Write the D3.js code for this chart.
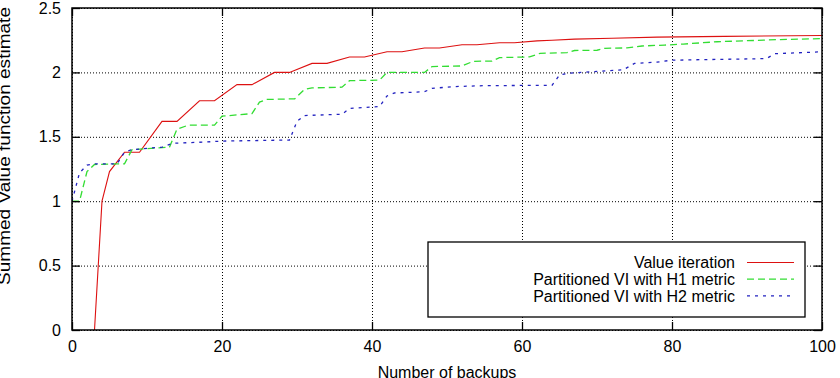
<!DOCTYPE html>
<html>
<head>
<meta charset="utf-8">
<script src="https://cdn.jsdelivr.net/npm/d3@7"></script>
<style>
  body { margin: 0; background: #fff; }
  svg { display: block; font-family: "Liberation Sans", Arial, sans-serif; }
  .grid line { stroke: #000; stroke-dasharray: 1,2; stroke-width: 1; }
  .grid path { display: none; }
  .axis path { display: none; }
  .axis line { stroke: #000; stroke-width: 1.3; }
  .axis text { font-size: 16px; fill: #000; }
</style>
</head>
<body>
<script>
// data: [number of backups, summed value]
const valueIteration = [
  [3, 0], [4, 1.0], [5, 1.23], [7, 1.38], [9, 1.38], [12, 1.62], [14, 1.62],
  [17, 1.78], [19, 1.78], [22, 1.905], [24, 1.905], [27, 2.0], [29, 2.0],
  [32, 2.07], [34, 2.07], [37, 2.12], [39, 2.12], [42, 2.16], [44, 2.16],
  [47, 2.19], [49, 2.19], [52, 2.215], [54, 2.215], [57, 2.23], [59, 2.23],
  [62, 2.245], [64, 2.25], [67, 2.258], [72, 2.265], [78, 2.274], [87, 2.28], [100, 2.286]
]
const partH1 = [
  [0, 1.0], [1, 1.0], [2, 1.23], [3, 1.285], [6, 1.29], [7, 1.29], [8, 1.40],
  [13, 1.42], [14, 1.56], [15.5, 1.59], [19, 1.59], [20, 1.66], [24, 1.68],
  [25, 1.77], [26, 1.79], [29.7, 1.795], [31, 1.868], [32, 1.88], [36, 1.885],
  [37, 1.936], [41, 1.94], [42, 2.0], [47, 2.0], [48, 2.045], [52, 2.05],
  [53.5, 2.086], [56, 2.088], [57, 2.115], [61, 2.12], [62.4, 2.148], [66, 2.153],
  [67, 2.17], [70, 2.172], [71, 2.187], [74, 2.19], [76, 2.205], [79, 2.212],
  [81.5, 2.22], [86, 2.238], [94, 2.254], [100, 2.262]
]
const partH2 = [
  [0, 1.0], [1, 1.22], [2, 1.28], [3, 1.29], [6, 1.29], [7, 1.38], [8, 1.40],
  [12, 1.42], [13.5, 1.45], [18, 1.46], [20, 1.467], [29, 1.475], [30, 1.62],
  [31, 1.665], [36, 1.675], [37, 1.72], [41, 1.735], [42, 1.817], [43, 1.84],
  [47, 1.85], [48, 1.876], [51, 1.89], [55, 1.897], [64, 1.9], [65, 1.98],
  [66.5, 1.995], [73.5, 2.02], [75, 2.07], [78, 2.08], [80, 2.095],
  [92.6, 2.107], [93.7, 2.145], [100, 2.16]
]
const seriesNames = ['Value iteration', 'Partitioned VI with H1 metric', 'Partitioned VI with H2 metric']
const xTicks = [0, 20, 40, 60, 80, 100]
const yTicks = [0, 0.5, 1, 1.5, 2, 2.5]

const w = 840
const h = 378
const margin = { top: 8, right: 18, bottom: 48, left: 72 }

const svg = d3.select('body')
  .append('svg')
  .attr('width', w)
  .attr('height', h)

const xScale = d3.scaleLinear()
  .domain([0, 100])
  .range([margin.left, w - margin.right])
const yScale = d3.scaleLinear()
  .domain([0, 2.5])
  .range([h - margin.bottom, margin.top])

const plotW = w - margin.left - margin.right
const plotH = h - margin.top - margin.bottom

// dotted grid
svg.append('g')
  .attr('class', 'grid')
  .attr('transform', 'translate(0,' + (h - margin.bottom) + ')')
  .call(d3.axisBottom(xScale).tickValues(xTicks).tickSize(-plotH).tickFormat(''))
svg.append('g')
  .attr('class', 'grid')
  .attr('transform', 'translate(' + margin.left + ',0)')
  .call(d3.axisLeft(yScale).tickValues(yTicks).tickSize(-plotW).tickFormat(''))

svg.append('defs').append('clipPath')
  .attr('id', 'plot-clip')
  .append('rect')
  .attr('x', margin.left)
  .attr('y', margin.top)
  .attr('width', plotW)
  .attr('height', plotH)

const line = d3.line()
  .x(d => xScale(d[0]))
  .y(d => yScale(d[1]))

const styles = [
  { color: '#dd1111', dash: null, width: 1.1 },
  { color: '#33dd33', dash: '7,4', width: 1.3 },
  { color: '#2323c0', dash: '3,5', width: 1.3 }
]
const allSeries = [valueIteration, partH1, partH2]

const lines = svg.append('g').attr('clip-path', 'url(#plot-clip)')
allSeries.forEach((s, i) => {
  lines.append('path')
    .datum(s)
    .attr('fill', 'none')
    .attr('stroke', styles[i].color)
    .attr('stroke-width', styles[i].width)
    .attr('stroke-dasharray', styles[i].dash)
    .attr('d', line)
})

// axes, ticks pointing into the plot on all four sides
svg.append('g')
  .attr('class', 'axis')
  .attr('transform', 'translate(0,' + (h - margin.bottom) + ')')
  .call(d3.axisBottom(xScale).tickValues(xTicks).tickSize(-8).tickPadding(11))
svg.append('g')
  .attr('class', 'axis')
  .attr('transform', 'translate(0,' + margin.top + ')')
  .call(d3.axisTop(xScale).tickValues(xTicks).tickSize(-8).tickFormat(''))
svg.append('g')
  .attr('class', 'axis')
  .attr('transform', 'translate(' + margin.left + ',0)')
  .call(d3.axisLeft(yScale).tickValues(yTicks).tickSize(-8).tickPadding(11).tickFormat(d3.format('~g')))
svg.append('g')
  .attr('class', 'axis')
  .attr('transform', 'translate(' + (w - margin.right) + ',0)')
  .call(d3.axisRight(yScale).tickValues(yTicks).tickSize(-8).tickFormat(''))

svg.append('rect')
  .attr('x', margin.left)
  .attr('y', margin.top)
  .attr('width', plotW)
  .attr('height', plotH)
  .attr('fill', 'none')
  .attr('stroke', '#000')
  .attr('stroke-width', 1.5)

// legend
const legend = svg.append('g')
legend.append('rect')
  .attr('x', 428)
  .attr('y', 242)
  .attr('width', 377)
  .attr('height', 75)
  .attr('fill', '#fff')
  .attr('stroke', '#000')
  .attr('stroke-width', 1.3)
seriesNames.forEach((name, i) => {
  const cy = 262.5 + i * 16.7
  legend.append('text')
    .attr('x', 735)
    .attr('y', cy)
    .attr('dy', '0.35em')
    .attr('text-anchor', 'end')
    .attr('font-size', 16)
    .text(name)
  legend.append('line')
    .attr('x1', 747)
    .attr('x2', 794)
    .attr('y1', cy)
    .attr('y2', cy)
    .attr('stroke', styles[i].color)
    .attr('stroke-width', styles[i].width)
    .attr('stroke-dasharray', styles[i].dash)
})

// axis titles
svg.append('text')
  .attr('x', (margin.left + w - margin.right) / 2)
  .attr('y', 378)
  .attr('text-anchor', 'middle')
  .attr('font-size', 16)
  .text('Number of backups')
svg.append('text')
  .attr('transform', 'translate(10,146) rotate(-90)')
  .attr('text-anchor', 'middle')
  .attr('font-size', 16)
  .attr('textLength', 278)
  .attr('lengthAdjust', 'spacingAndGlyphs')
  .text('Summed Value function estimate')
</script>
</body>
</html>
